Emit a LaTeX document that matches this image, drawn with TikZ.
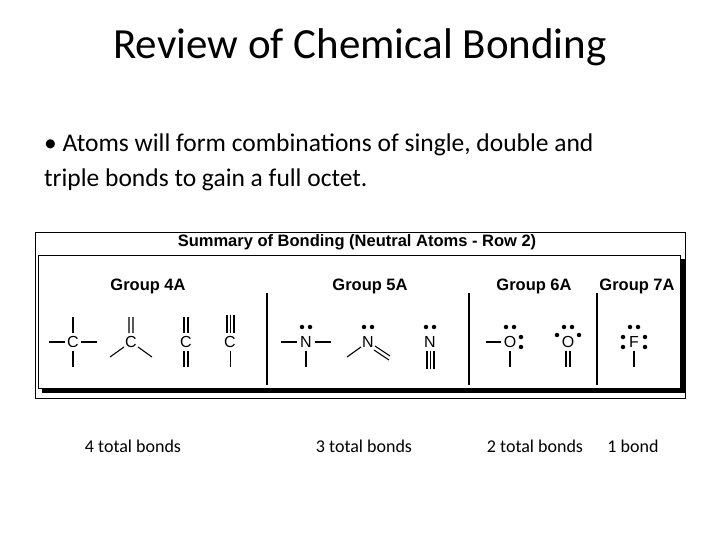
\documentclass[tikz,border=0pt]{standalone}
\usepackage{fontspec}
\setmainfont{Carlito}
\newfontfamily\arial{Liberation Sans}
\begin{document}
\begin{tikzpicture}[x=1pt,y=-1pt,
 lbl/.style={font=\arial\bfseries\fontsize{16.5}{18}\selectfont,inner sep=0},
 atom/.style={font=\arial\fontsize{16}{18}\selectfont,inner sep=0},
 bd/.style={line width=1.1pt},
 dot/.style={fill=black,circle,inner sep=0,minimum size=4.5pt},
 bot/.style={font=\fontsize{18}{20}\selectfont,inner sep=0}]
\useasboundingbox (0,0) rectangle (720,540);
\node (title) at (360,47) {\fontsize{43}{50}\selectfont Review of Chemical Bonding};
\node[anchor=west,align=left,inner sep=0,font=\fontsize{25.5}{35}\selectfont] (bul) at (44,162) {• Atoms will form combinations of single, double and\\triple bonds to gain a full octet.};
% frame
\draw[line width=0.6pt] (35,232) rectangle (685,398);
\fill (42,259) rectangle (685,393);
\fill[white] (38,255) rectangle (680,388);
\draw[line width=0.8pt] (38,255) rectangle (680,388);
\node[lbl] (sum) at (357,242) {Summary of Bonding (Neutral Atoms - Row 2)};
\node[lbl] (g4) at (148,286) {Group 4A};
\node[lbl] (g5) at (370,286) {Group 5A};
\node[lbl] (g6) at (534,286) {Group 6A};
\node[lbl] (g7) at (637,286) {Group 7A};
\draw[bd] (267,293) -- (267,385) (469,293) -- (469,385) (597,293) -- (597,385);
% C1
\node[atom] (c1) at (73,342) {C};
\draw[bd] (49,342)--(65,342) (81,342)--(97,342) (73,317)--(73,333) (73,351)--(73,367);
% C2
\node[atom] (c2) at (131,342) {C};
\draw[bd] (129,317)--(129,333) (133,317)--(133,333) (124,347)--(110,357) (138,347)--(152,357);
% C3
\node[atom] (c3) at (186,342) {C};
\draw[bd] (184,317)--(184,333) (188,317)--(188,333) (184,351)--(184,367) (188,351)--(188,367);
% C4
\node[atom] (c4) at (230,342) {C};
\draw[bd] (227,315)--(227,333) (230.5,315)--(230.5,333) (234,315)--(234,333) (230.5,351)--(230.5,367);
% N1
\node[atom] (n1) at (306,342) {N};
\draw[bd] (281,342)--(297,342) (315,342)--(331,342) (306,351)--(306,367);
\node[dot] at (302,327) {}; \node[dot] at (310,327) {};
% N2
\node[atom] (n2) at (368,342) {N};
\draw[bd] (361,347)--(347,357) (375,346)--(390,356) (374,350)--(389,360);
\node[dot] at (364,327) {}; \node[dot] at (372,327) {};
% N3
\node[atom] (n3) at (430,342) {N};
\draw[bd] (427,351)--(427,369) (430.5,351)--(430.5,369) (434,351)--(434,369);
\node[dot] at (426,327) {}; \node[dot] at (434,327) {};
% O1
\node[atom] (o1) at (510,342) {O};
\draw[bd] (486,342)--(501,342) (510,351)--(510,367);
\node[dot] at (506,327) {}; \node[dot] at (514,327) {};
\node[dot] at (521,337) {}; \node[dot] at (521,347) {};
% O2
\node[atom] (o2) at (568,342) {O};
\draw[bd] (566,351)--(566,367) (570,351)--(570,367);
\node[dot] at (564,327) {}; \node[dot] at (572,327) {};
\node[dot] at (557,335) {}; \node[dot] at (579,335) {};
% F
\node[atom] (f) at (634,342) {F};
\draw[bd] (634,351)--(634,367);
\node[dot] at (630,327) {}; \node[dot] at (638,327) {};
\node[dot] at (623,337) {}; \node[dot] at (623,347) {};
\node[dot] at (645,337) {}; \node[dot] at (645,347) {};
% bottom
\node[bot] (b4) at (133,446) {4 total bonds};
\node[bot] (b3) at (364,446) {3 total bonds};
\node[bot] (b2) at (535,446) {2 total bonds};
\node[bot] (b1) at (633,446) {1 bond};
\end{tikzpicture}
\end{document}
